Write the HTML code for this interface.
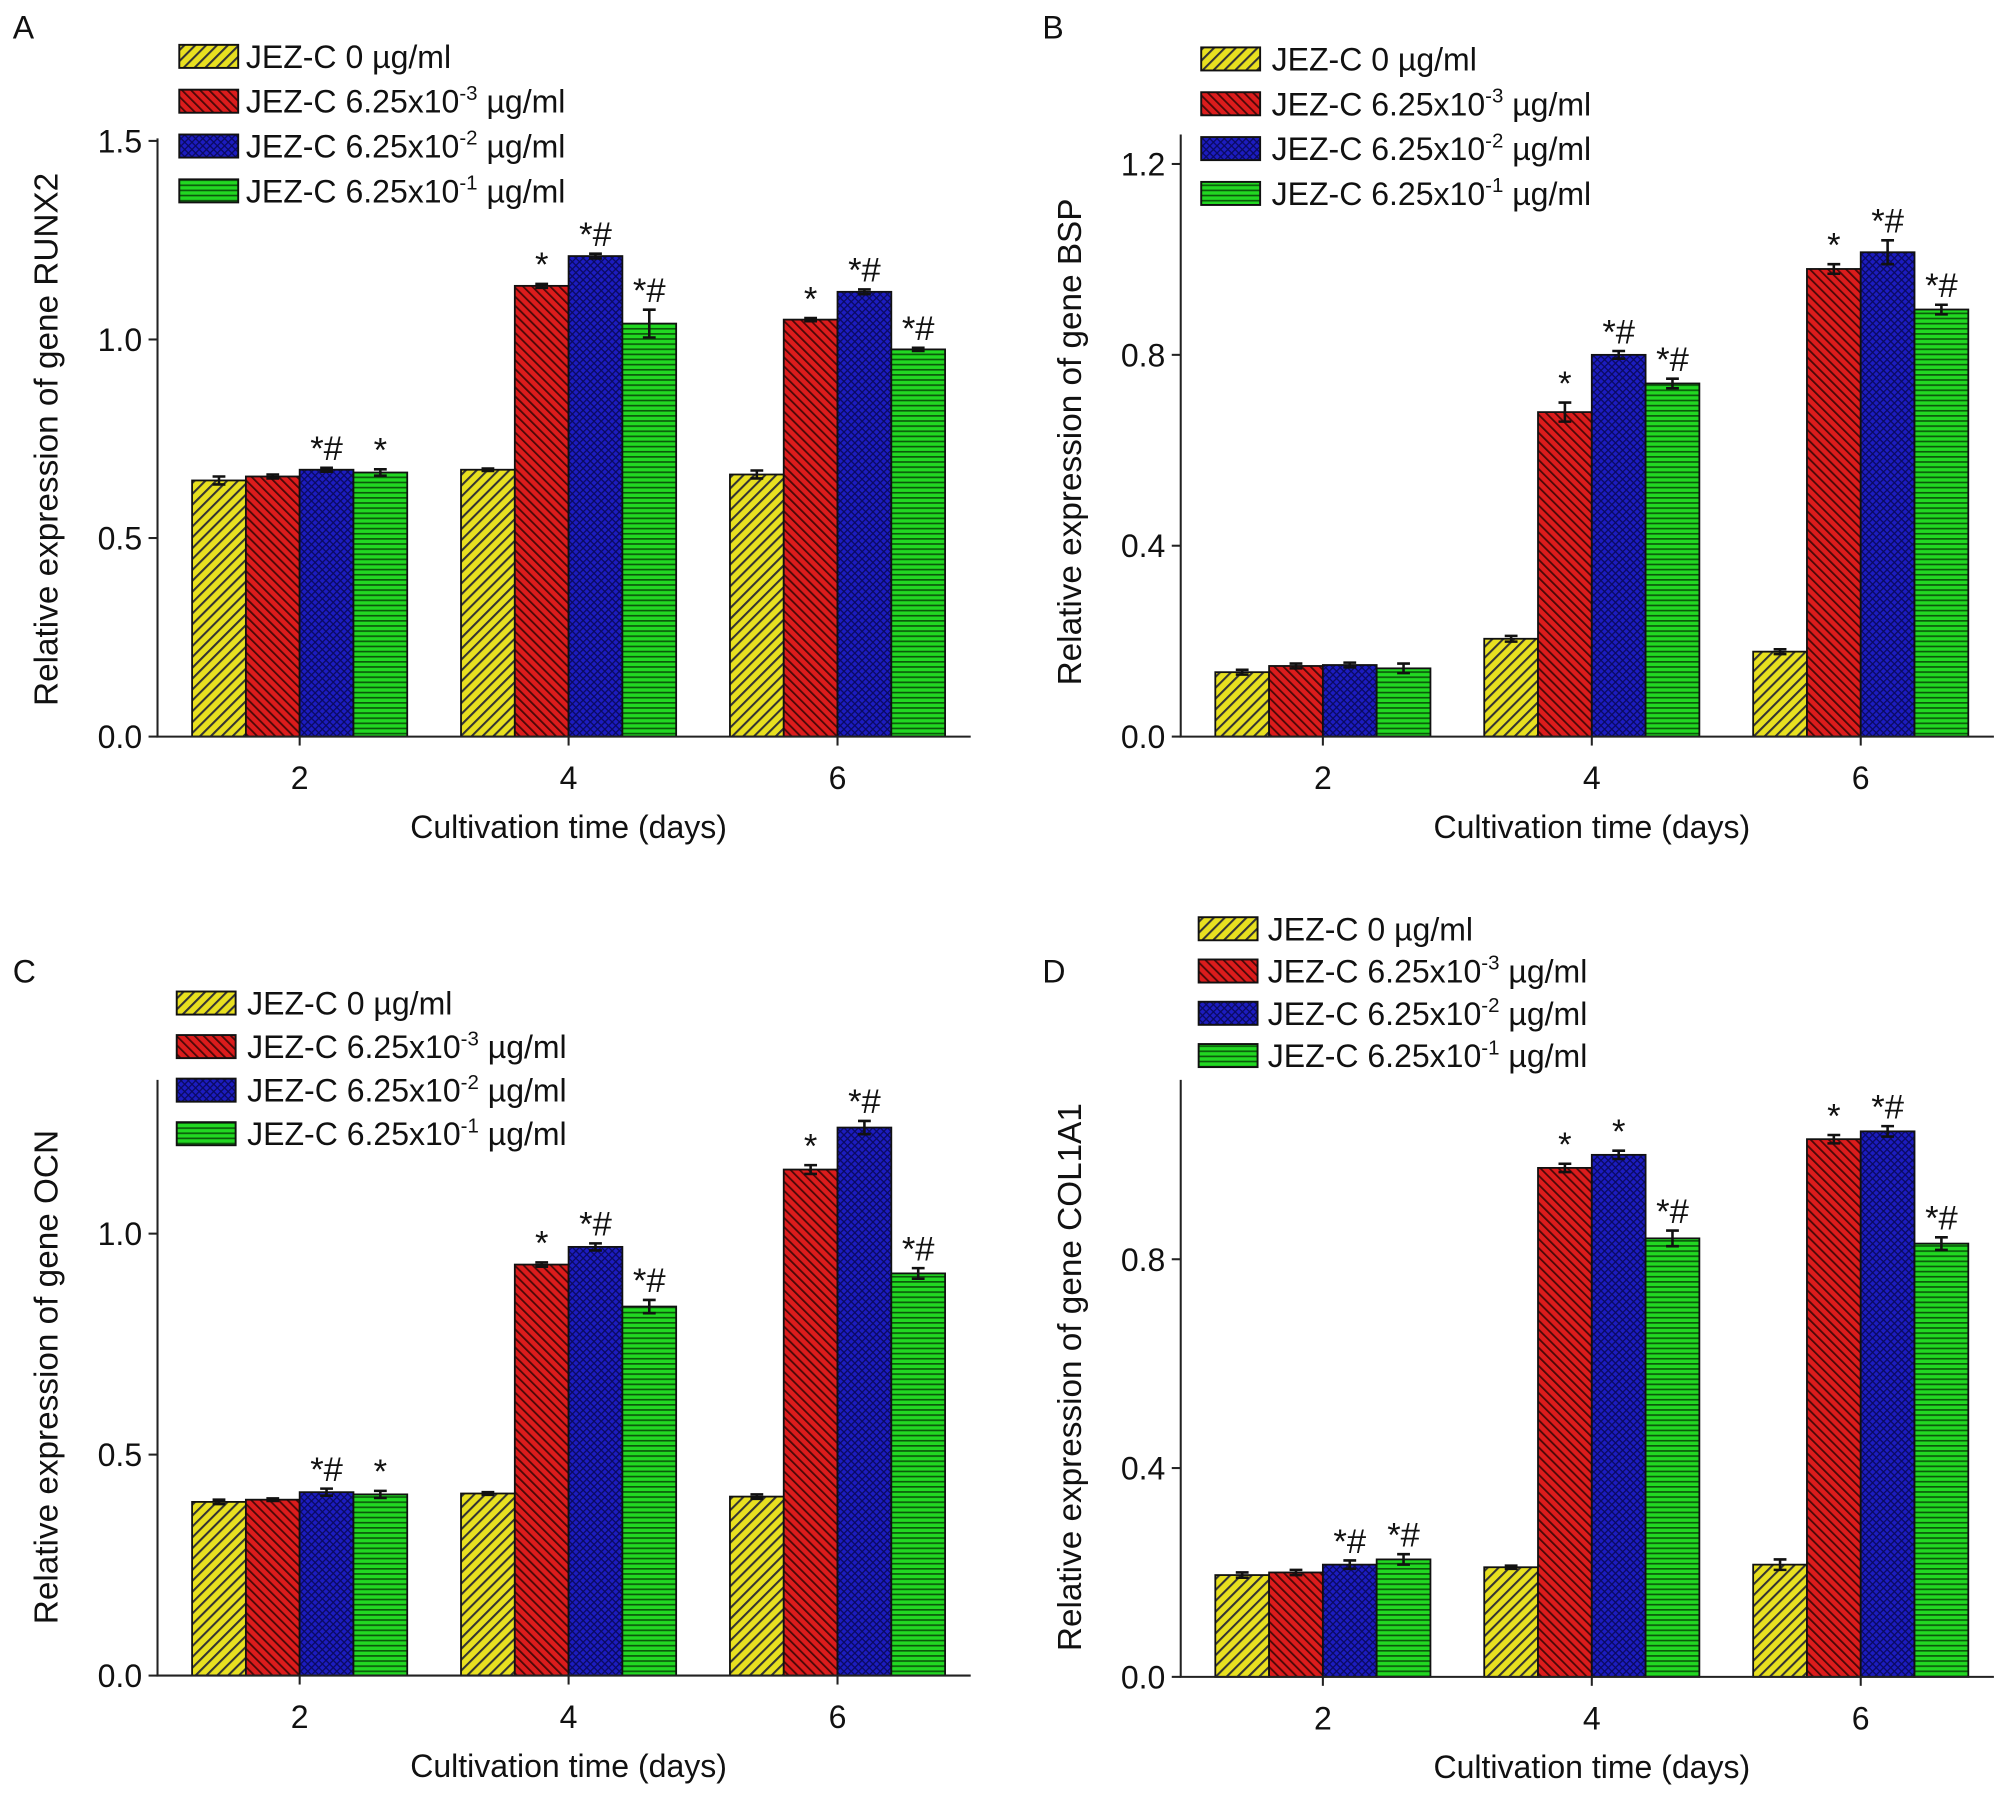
<!DOCTYPE html>
<html><head><meta charset="utf-8"><style>
html,body{margin:0;padding:0;background:#fff}
svg{display:block}
text{font-family:"Liberation Sans",Arial,sans-serif;fill:#111}
</style></head><body>
<svg id="fig" width="2008" height="1796" viewBox="0 0 1568 1402" preserveAspectRatio="none" xmlns="http://www.w3.org/2000/svg">
<defs>
<pattern id="pY" patternUnits="userSpaceOnUse" width="6" height="6" patternTransform="rotate(45)"><rect width="6" height="6" fill="#e8e020"/><rect width="1.6" height="6" fill="#333"/></pattern>
<pattern id="pR" patternUnits="userSpaceOnUse" width="5" height="5" patternTransform="rotate(-45)"><rect width="5" height="5" fill="#dc1c1c"/><rect width="1.4" height="5" fill="#4a0808"/></pattern>
<pattern id="pB" patternUnits="userSpaceOnUse" width="4" height="4" patternTransform="rotate(45)"><rect width="4" height="4" fill="#1c1cc0"/><rect width="1" height="4" fill="#0a0a60"/><rect width="4" height="1" fill="#0a0a60"/></pattern>
<pattern id="pG" patternUnits="userSpaceOnUse" width="5" height="4"><rect width="5" height="4" fill="#22d822"/><rect width="5" height="1.3" fill="#0b5a0b"/></pattern>
</defs>
</svg>
<script>
const days = ["2","4","6"];
const supers = ["","-3","-2","-1"];
const aVals = [[0.645,0.672,0.660],[0.655,1.135,1.050],[0.672,1.210,1.120],[0.665,1.040,0.975]];
const aErr  = [[0.010,0.003,0.010],[0.005,0.005,0.004],[0.005,0.006,0.006],[0.008,0.035,0.004]];
const aMarks= [["","",""],["","*","*"],["*#","*#","*#"],["*","*#","*#"]];
const aTicks = [0,0.5,1.0,1.5];
const bVals = [[0.135,0.205,0.178],[0.148,0.680,0.980],[0.150,0.800,1.015],[0.143,0.740,0.895]];
const bErr  = [[0.005,0.006,0.005],[0.005,0.020,0.010],[0.005,0.008,0.025],[0.010,0.010,0.010]];
const bMarks= [["","",""],["","*","*"],["","*#","*#"],["","*#","*#"]];
const bTicks = [0,0.4,0.8,1.2];
const cVals = [[0.393,0.412,0.405],[0.398,0.930,1.145],[0.415,0.970,1.240],[0.410,0.835,0.910]];
const cErr  = [[0.005,0.003,0.005],[0.003,0.005,0.010],[0.008,0.008,0.015],[0.008,0.015,0.012]];
const cMarks= [["","",""],["","*","*"],["*#","*#","*#"],["*","*#","*#"]];
const cTicks = [0,0.5,1.0];
const dVals = [[0.195,0.210,0.215],[0.200,0.975,1.030],[0.215,1.000,1.045],[0.225,0.840,0.830]];
const dErr  = [[0.005,0.003,0.010],[0.005,0.008,0.008],[0.008,0.008,0.010],[0.010,0.015,0.012]];
const dMarks= [["","",""],["","*","*"],["*#","*","*#"],["*#","*#","*#"]];
const dTicks = [0,0.4,0.8];

const NS="http://www.w3.org/2000/svg";
const svg=document.getElementById('fig');
const fills=["url(#pY)","url(#pR)","url(#pB)","url(#pG)"];
function el(tag,attrs,parent){const e=document.createElementNS(NS,tag);for(const k in attrs)e.setAttribute(k,attrs[k]);(parent||svg).appendChild(e);return e;}

function panel(p){
  const g=el('g',{});
  
  
  const y=v=>p.y0-v*p.ppu;
  const x=i=>p.x0+111+i*210;
  const lbl=el('text',{x:p.lx,y:p.ly,'font-size':25},g);lbl.textContent=p.id;
  
  
  for(let s=0;s<4;s++){for(let d=0;d<3;d++){
    const v=p.vals[s][d],e=p.err[s][d];
    const bx=x(d)-84+s*42;
    const r=el('rect',{x:bx,y:y(v),width:42,height:p.y0-y(v),fill:fills[s],stroke:'#111','stroke-width':1.4},g);
    
    
    const cx=bx+21;
    const eb=el('path',{d:`M${cx},${y(v+e)}V${y(v-e)}M${cx-5},${y(v+e)}H${cx+5}M${cx-5},${y(v-e)}H${cx+5}`,stroke:'#111','stroke-width':2,fill:'none'},g);
    
    
    const m=p.marks[s][d];
    if(m){const t=el('text',{x:cx,y:y(v+e)-6,'font-size':27,'text-anchor':'middle'},g);t.textContent=m;
      
      }
  }}
  const ax=el('path',{d:`M${p.x0},${p.top}V${p.y0}H${p.x0+635}`,stroke:'#222','stroke-width':1.6,fill:'none'},g);
  
  
  p.ticks.forEach(t=>{
    el('line',{x1:p.x0-7,x2:p.x0,y1:y(t),y2:y(t),stroke:'#222','stroke-width':1.6},g);
    const tt=el('text',{x:p.x0-12,y:y(t)+9,'font-size':25,'text-anchor':'end'},g);tt.textContent=t.toFixed(1);
    
    
  });
  days.forEach((dd,i)=>{
    el('line',{x1:x(i),x2:x(i),y1:p.y0,y2:p.y0+7,stroke:'#222','stroke-width':1.6},g);
    const tt=el('text',{x:x(i),y:p.y0+41,'font-size':25,'text-anchor':'middle'},g);tt.textContent=dd;
    
    
  });
  const xt=el('text',{x:p.x0+321,y:p.y0+79,'font-size':25,'text-anchor':'middle'},g);xt.textContent='Cultivation time (days)';
  
  
  const yt=el('text',{x:0,y:0,'font-size':26,'text-anchor':'middle',transform:`translate(${p.x0-78},${p.ytMid}) rotate(-90)`},g);yt.textContent=p.ytitle;
  
  
  for(let s=0;s<4;s++){
    const cy=p.legY+s*p.legDy;
    const lg=el('g',{},g);
    
    
    el('rect',{x:p.legX,y:cy-9,width:46,height:18,fill:fills[s],stroke:'#111','stroke-width':1.5},lg);
    const t=el('text',{x:p.legX+p.legTx,y:cy+9,'font-size':25},lg);
    if(s===0){t.textContent='JEZ-C 0 µg/ml';}
    else{t.textContent='JEZ-C 6.25x10';const sp=el('tspan',{'font-size':16,dy:-10},t);sp.textContent=supers[s];const sp2=el('tspan',{dy:10},t);sp2.textContent=' µg/ml';}
  }
}
panel({id:'A',lx:10,ly:30,x0:123,y0:575,top:108,ppu:310,vals:aVals,err:aErr,marks:aMarks,ticks:aTicks,ytitle:'Relative expression of gene RUNX2',ytMid:343,legX:140,legY:44,legDy:35,legTx:52});
panel({id:'B',lx:814,ly:30,x0:922,y0:575,top:105,ppu:372.5,vals:bVals,err:bErr,marks:bMarks,ticks:bTicks,ytitle:'Relative expression of gene BSP',ytMid:345,legX:938,legY:46,legDy:35,legTx:55});
panel({id:'C',lx:10,ly:767,x0:123,y0:1308,top:843,ppu:345,vals:cVals,err:cErr,marks:cMarks,ticks:cTicks,ytitle:'Relative expression of gene OCN',ytMid:1075,legX:138,legY:783,legDy:34,legTx:55});
panel({id:'D',lx:814,ly:767,x0:922,y0:1309,top:843,ppu:407.5,vals:dVals,err:dErr,marks:dMarks,ticks:dTicks,ytitle:'Relative expression of gene COL1A1',ytMid:1075,legX:936,legY:725,legDy:33,legTx:54});
</script>
</body></html>
